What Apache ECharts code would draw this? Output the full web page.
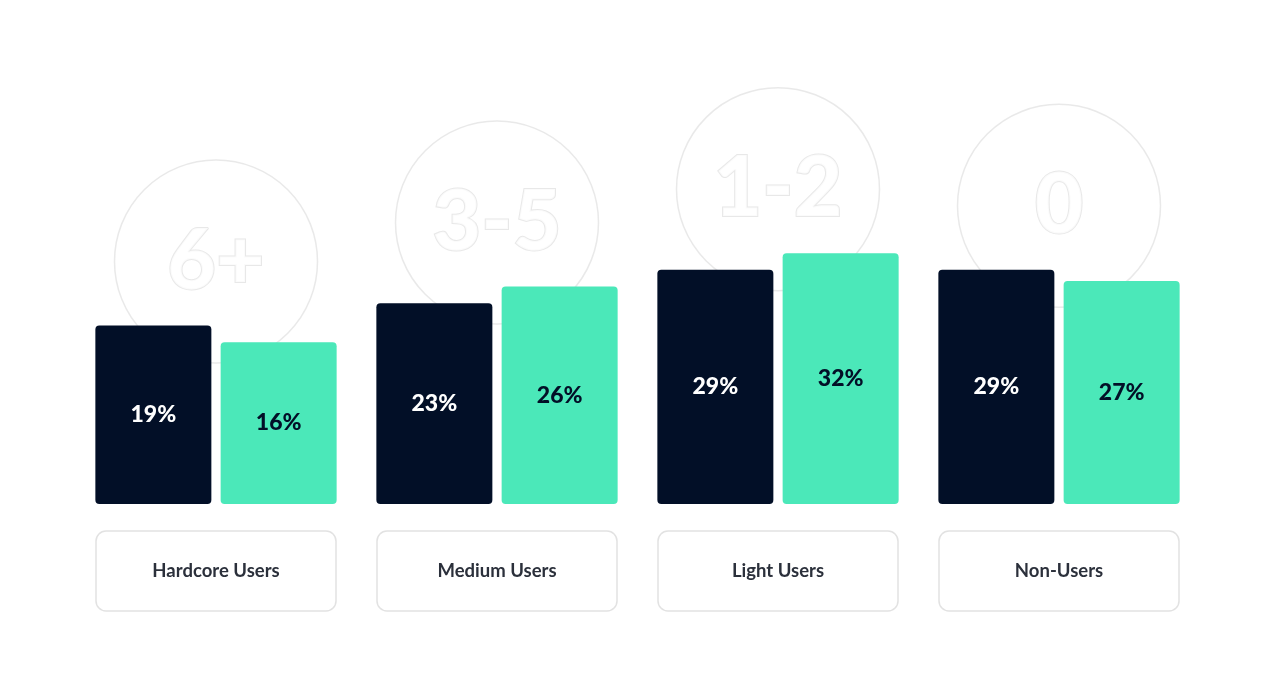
<!DOCTYPE html>
<html>
<head>
<meta charset="utf-8">
<title>Users</title>
<script src="https://cdn.jsdelivr.net/npm/echarts@6/dist/echarts.min.js"></script>
<style>
  html, body { margin: 0; padding: 0; background: #fff; }
  #container { width: 1276px; height: 700px; }
</style>
</head>
<body>
<div id="container"></div>
<script>
var categories = ['Hardcore Users', 'Medium Users', 'Light Users', 'Non-Users'];
var frequency = ['6+', '3-5', '1-2', '0'];
var darkValues = [19, 23, 29, 29];
var greenValues = [16, 26, 32, 27];

// bars in the picture do not start at 0, they sit on a raised base
var BASE = 13.1;
var CIRCLE_LIFT = 11.5;

var dom = document.getElementById('container');
var myChart = echarts.init(dom);
window.onresize = myChart.resize;

function lifted(arr) {
  return arr.map(function (v) { return v + BASE; });
}

var circleData = categories.map(function (c, i) {
  return {
    value: Math.max(darkValues[i], greenValues[i]) + CIRCLE_LIFT + BASE,
    label: { formatter: frequency[i] }
  };
});

var pctLabel = function (raw) {
  return function (p) { return raw[p.dataIndex] + '%'; };
};

var option = {
  backgroundColor: '#ffffff',
  animation: false,
  grid: {
    left: 75.5,
    right: 76.5,
    top: 59,
    bottom: 196
  },
  xAxis: {
    type: 'category',
    data: categories,
    axisLine: { show: false },
    axisTick: { show: false },
    axisLabel: {
      margin: 27,
      width: 240,
      height: 80,
      lineHeight: 80,
      align: 'center',
      verticalAlign: 'top',
      borderColor: '#e2e2e2',
      borderWidth: 1.5,
      borderRadius: 10,
      color: '#2b303b',
      fontFamily: 'Lato',
      fontWeight: 'bold',
      fontSize: 18.5
    }
  },
  yAxis: {
    type: 'value',
    min: 0,
    max: 80,
    show: false,
    splitLine: { show: false }
  },
  series: [
    {
      name: 'Frequency',
      type: 'scatter',
      z: 1,
      silent: true,
      symbol: 'circle',
      symbolSize: 203,
      data: circleData,
      itemStyle: {
        color: 'rgba(0,0,0,0)',
        borderColor: '#e4e4e4',
        borderWidth: 1.5
      },
      label: {
        show: true,
        position: 'inside',
        fontFamily: 'Lato',
        fontWeight: 900,
        fontSize: 84,
        color: 'rgba(255,255,255,1)',
        textBorderColor: '#e2e2e2',
        textBorderWidth: 2
      }
    },
    {
      name: 'A',
      type: 'bar',
      z: 3,
      barWidth: 116,
      barGap: '8%',
      data: lifted(darkValues),
      itemStyle: { color: '#020f27', borderRadius: 4 },
      label: {
        show: true,
        position: 'inside',
        formatter: pctLabel(darkValues),
        color: '#ffffff',
        fontFamily: 'Lato',
        fontWeight: 900,
        fontSize: 23
      }
    },
    {
      name: 'B',
      type: 'bar',
      z: 3,
      barWidth: 116,
      data: lifted(greenValues),
      itemStyle: { color: '#4be8b9', borderRadius: 4 },
      label: {
        show: true,
        position: 'inside',
        formatter: pctLabel(greenValues),
        color: '#020f27',
        fontFamily: 'Lato',
        fontWeight: 900,
        fontSize: 23
      }
    }
  ]
};

myChart.setOption(option, true);
</script>
</body>
</html>
